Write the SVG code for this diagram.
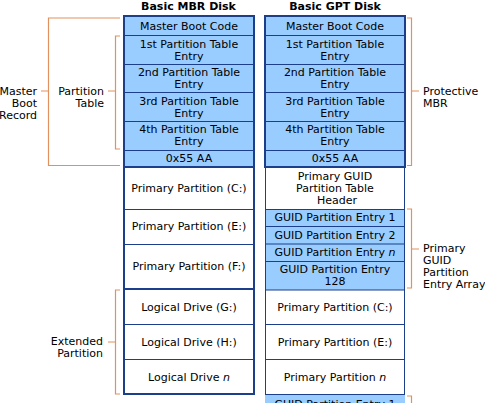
<svg xmlns="http://www.w3.org/2000/svg" width="485" height="403" viewBox="0 0 485 403">
<style>
text{font-family:"DejaVu Sans",Verdana,sans-serif;font-size:11px;fill:#000}
.t{font-weight:bold}
.c{text-anchor:middle}
.r{text-anchor:end}
.b{fill:#99ccff}
.w{fill:#ffffff}
.k{fill:none;stroke:#1b3f8b;stroke-width:2}
.n{fill:none;stroke:#1b3f8b;stroke-width:1}
.br{fill:none;stroke:#e0915d;stroke-width:1.2}
</style>
<rect width="485" height="403" fill="#fff"/>
<text class="t c" x="188.5" y="9.5">Basic MBR Disk</text>
<text class="t c" x="335" y="9.5">Basic GPT Disk</text>

<g id="mbr-disk">
<g id="mbr-code"><rect class="b" x="124" y="16" width="130" height="19.5"/><text class="c" x="189" y="30">Master Boot Code</text></g>
<g id="mbr-pt1"><rect class="b" x="124" y="35.5" width="130" height="29"/><text class="c" x="189" y="47.5">1st Partition Table</text><text class="c" x="189" y="59.5">Entry</text></g>
<g id="mbr-pt2"><rect class="b" x="124" y="64.5" width="130" height="28"/><text class="c" x="189" y="76">2nd Partition Table</text><text class="c" x="189" y="88">Entry</text></g>
<g id="mbr-pt3"><rect class="b" x="124" y="92.5" width="130" height="29"/><text class="c" x="189" y="104.5">3rd Partition Table</text><text class="c" x="189" y="116.5">Entry</text></g>
<g id="mbr-pt4"><rect class="b" x="124" y="121.5" width="130" height="29"/><text class="c" x="189" y="132.7">4th Partition Table</text><text class="c" x="189" y="144.7">Entry</text></g>
<g id="mbr-sig"><rect class="b" x="124" y="150.5" width="130" height="16.5"/><text class="c" x="189" y="161.5">0x55 AA</text></g>
<path class="n" d="M124,35.5H254M124,64.5H254M124,92.5H254M124,121.5H254M124,150.5H254"/>
<rect class="k" x="124" y="16" width="130" height="151"/>
<g id="mbr-c"><text class="c" x="189" y="192">Primary Partition (C:)</text></g>
<g id="mbr-e"><text class="c" x="189" y="229.7">Primary Partition (E:)</text></g>
<g id="mbr-f"><text class="c" x="189" y="270">Primary Partition (F:)</text></g>
<path class="n" d="M124,209.5H254M124,244.5H254"/>
<rect class="k" x="124" y="167" width="130" height="122"/>
<g id="mbr-g"><text class="c" x="189" y="310.7">Logical Drive (G:)</text></g>
<g id="mbr-h"><text class="c" x="189" y="345.7">Logical Drive (H:)</text></g>
<g id="mbr-n"><text class="c" x="189" y="381.3">Logical Drive <tspan font-style="italic">n</tspan></text></g>
<path class="n" d="M124,324.5H254M124,359.5H254"/>
<rect class="k" x="124" y="289" width="130" height="105"/>
</g>

<g id="gpt-disk">
<g id="gpt-code"><rect class="b" x="265" y="16" width="140" height="19.5"/><text class="c" x="335" y="30">Master Boot Code</text></g>
<g id="gpt-pt1"><rect class="b" x="265" y="35.5" width="140" height="29"/><text class="c" x="335" y="47.5">1st Partition Table</text><text class="c" x="335" y="59.5">Entry</text></g>
<g id="gpt-pt2"><rect class="b" x="265" y="64.5" width="140" height="28"/><text class="c" x="335" y="76">2nd Partition Table</text><text class="c" x="335" y="88">Entry</text></g>
<g id="gpt-pt3"><rect class="b" x="265" y="92.5" width="140" height="29"/><text class="c" x="335" y="104.5">3rd Partition Table</text><text class="c" x="335" y="116.5">Entry</text></g>
<g id="gpt-pt4"><rect class="b" x="265" y="121.5" width="140" height="29"/><text class="c" x="335" y="132.7">4th Partition Table</text><text class="c" x="335" y="144.7">Entry</text></g>
<g id="gpt-sig"><rect class="b" x="265" y="150.5" width="140" height="16.5"/><text class="c" x="335" y="161.5">0x55 AA</text></g>
<path class="n" d="M265,35.5H405M265,64.5H405M265,92.5H405M265,121.5H405M265,150.5H405"/>
<g id="gpt-header"><text class="c" x="335" y="180">Primary GUID</text><text class="c" x="335" y="192">Partition Table</text><text class="c" x="337" y="204">Header</text></g>
<g id="gpt-e1"><rect class="b" x="265" y="209.5" width="140" height="17"/><text class="c" x="335" y="221.3">GUID Partition Entry 1</text></g>
<g id="gpt-e2"><rect class="b" x="265" y="226.5" width="140" height="17.5"/><text class="c" x="335" y="239">GUID Partition Entry 2</text></g>
<g id="gpt-en"><rect class="b" x="265" y="244" width="140" height="17.5"/><text class="c" x="335" y="255.7">GUID Partition Entry <tspan font-style="italic">n</tspan></text></g>
<g id="gpt-e128"><rect class="b" x="265" y="261.5" width="140" height="28.5"/><text class="c" x="335" y="273">GUID Partition Entry</text><text class="c" x="335" y="285">128</text></g>
<g id="gpt-c"><text class="c" x="335" y="310.7">Primary Partition (C:)</text></g>
<g id="gpt-e"><text class="c" x="335" y="345.7">Primary Partition (E:)</text></g>
<g id="gpt-n"><text class="c" x="335" y="380.7">Primary Partition <tspan font-style="italic">n</tspan></text></g>
<g id="gpt-b1"><rect class="b" x="265" y="395" width="140" height="17"/><text class="c" x="335" y="408">GUID Partition Entry 1</text></g>
<path class="n" d="M265.5,167V395M404.5,167V395M265,209.5H405M265,226.5H405M265,244H405M265,261.5H405M265,290H405M265,324.5H405M265,359.5H405M265,394.5H405"/>
<rect class="k" x="265" y="16" width="140" height="151"/>
</g>

<g id="connectors">
<path class="br" d="M120,18H48.5V165.5H120M48.5,91H41"/>
<path class="br" d="M120,36H115.5V149H120M115.5,91H108"/>
<path class="br" d="M407,18H411.5V165.5H407M411.5,91H419"/>
<path class="br" d="M407,209H411.5V288H407M411.5,249H419"/>
<path class="br" d="M120,290H115.5V394H120M115.5,342H108"/>
<path class="br" d="M407,396H411.5V403"/>
</g>

<g id="labels">
<text class="r" x="37" y="94.7">Master</text>
<text class="r" x="37" y="106.7">Boot</text>
<text class="r" x="37" y="118.7">Record</text>
<text class="r" x="104" y="95">Partition</text>
<text class="r" x="104" y="107">Table</text>
<text x="423" y="95">Protective</text>
<text x="423" y="107">MBR</text>
<text x="423" y="252">Primary</text>
<text x="423" y="264">GUID</text>
<text x="423" y="276">Partition</text>
<text x="423" y="288">Entry Array</text>
<text class="r" x="103" y="345">Extended</text>
<text class="r" x="103" y="357">Partition</text>
</g>
</svg>
